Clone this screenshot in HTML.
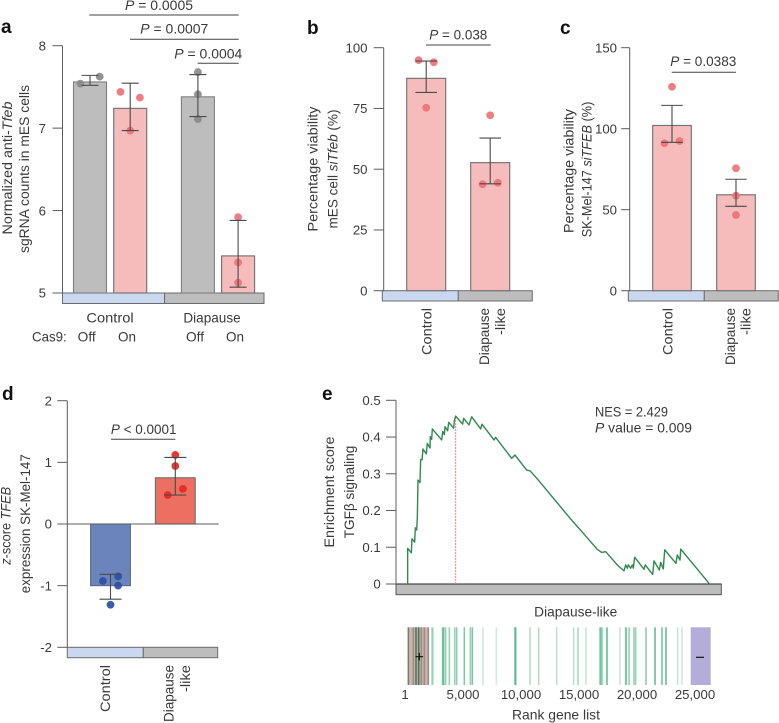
<!DOCTYPE html>
<html lang="en">
<head>
<meta charset="utf-8">
<title>Tfeb diapause figure</title>
<style>
html,body{margin:0;padding:0;background:#fff;width:779px;height:723px;overflow:hidden}
svg{display:block}
text{font-family:"Liberation Sans",sans-serif;font-size:13.6px;fill:#3a3a3a}
.letter{font-size:19px;font-weight:bold;fill:#111}
.mid{text-anchor:middle}
.tick{font-size:13.2px;text-anchor:end}
.rank{font-size:13.2px;text-anchor:middle}
.end{text-anchor:end}
.i{font-style:italic}
.br{stroke:#444;stroke-width:1}
.s-blue{fill:#c9d8ef;stroke:#6b6b6b;stroke-width:1}
.s-gray{fill:#bdbdbd;stroke:#6b6b6b;stroke-width:1}
</style>
</head>
<body>
<svg id="fig" width="779" height="723" viewBox="0 0 779 723" xmlns="http://www.w3.org/2000/svg">

<g id="pa">
  <text class="letter" x="1" y="33">a</text>
  <rect class="s-blue" x="62.5" y="293" width="102" height="10.5"/>
  <rect class="s-gray" x="164.5" y="293" width="99.5" height="10.5"/>
  <line class="br" x1="89.3" x2="238.7" y1="15" y2="15"/>
  <text class="mid" x="159" y="10" textLength="68" lengthAdjust="spacingAndGlyphs"><tspan class="i">P</tspan> = 0.0005</text>
  <line class="br" x1="130" x2="238.7" y1="39.3" y2="39.3"/>
  <text class="mid" x="174.3" y="33.5" textLength="68" lengthAdjust="spacingAndGlyphs"><tspan class="i">P</tspan> = 0.0007</text>
  <line class="br" x1="197.7" x2="238.7" y1="63.3" y2="63.3"/>
  <text class="mid" x="208.3" y="58.5" textLength="68" lengthAdjust="spacingAndGlyphs"><tspan class="i">P</tspan> = 0.0004</text>
  <text class="mid" transform="translate(12 168) rotate(-90)" textLength="133" lengthAdjust="spacingAndGlyphs">Normalized anti-<tspan class="i">Tfeb</tspan></text>
  <text class="mid" transform="translate(29 169) rotate(-90)" textLength="168" lengthAdjust="spacingAndGlyphs">sgRNA counts in mES cells</text>
  <text class="mid" x="110" y="322.7" textLength="47.3" lengthAdjust="spacingAndGlyphs">Control</text>
  <text class="mid" x="212" y="322.7" textLength="57.3" lengthAdjust="spacingAndGlyphs">Diapause</text>
  <text x="32" y="341.7" textLength="34.7" lengthAdjust="spacingAndGlyphs">Cas9:</text>
  <text class="mid" x="86.7" y="341.7" textLength="18" lengthAdjust="spacingAndGlyphs">Off</text>
  <text class="mid" x="127" y="341.7" textLength="18" lengthAdjust="spacingAndGlyphs">On</text>
  <text class="mid" x="195" y="341.7" textLength="18" lengthAdjust="spacingAndGlyphs">Off</text>
  <text class="mid" x="235" y="341.7" textLength="18" lengthAdjust="spacingAndGlyphs">On</text>
</g>

<g id="pb">
  <text class="letter" x="307" y="34">b</text>
  <rect class="s-blue" x="382.3" y="290.7" width="76" height="10.3"/>
  <rect class="s-gray" x="458.3" y="290.7" width="74" height="10.3"/>
  <line class="br" x1="426" x2="490.7" y1="45" y2="45"/>
  <text class="mid" x="458.3" y="39.3" textLength="58" lengthAdjust="spacingAndGlyphs"><tspan class="i">P</tspan> = 0.038</text>
  <text class="mid" transform="translate(317.3 169) rotate(-90)" textLength="125" lengthAdjust="spacingAndGlyphs">Percentage viability</text>
  <text class="mid" transform="translate(337.7 169) rotate(-90)" textLength="119" lengthAdjust="spacingAndGlyphs">mES cell <tspan class="i">siTfeb</tspan> (%)</text>
  <text class="end" transform="translate(431.7 308) rotate(-90)" textLength="47" lengthAdjust="spacingAndGlyphs">Control</text>
  <text class="end" transform="translate(489 308) rotate(-90)" textLength="57" lengthAdjust="spacingAndGlyphs">Diapause</text>
  <text class="end" transform="translate(505 308) rotate(-90)" textLength="27" lengthAdjust="spacingAndGlyphs">-like</text>
</g>

<g id="pc">
  <text class="letter" x="560" y="34">c</text>
  <rect class="s-blue" x="628.3" y="290.7" width="76" height="10.3"/>
  <rect class="s-gray" x="704.3" y="290.7" width="74" height="10.3"/>
  <line class="br" x1="671.7" x2="736" y1="72.3" y2="72.3"/>
  <text class="mid" x="703.3" y="66" textLength="66" lengthAdjust="spacingAndGlyphs"><tspan class="i">P</tspan> = 0.0383</text>
  <text class="mid" transform="translate(573.3 171) rotate(-90)" textLength="124" lengthAdjust="spacingAndGlyphs">Percentage viability</text>
  <text class="mid" transform="translate(591.7 169.5) rotate(-90)" textLength="135.6" lengthAdjust="spacingAndGlyphs">SK-Mel-147 <tspan class="i">siTFEB</tspan> (%)</text>
  <text class="end" transform="translate(672.3 308) rotate(-90)" textLength="47" lengthAdjust="spacingAndGlyphs">Control</text>
  <text class="end" transform="translate(735 308) rotate(-90)" textLength="57" lengthAdjust="spacingAndGlyphs">Diapause</text>
  <text class="end" transform="translate(750.7 308) rotate(-90)" textLength="27" lengthAdjust="spacingAndGlyphs">-like</text>
</g>

<g id="pd">
  <text class="letter" x="2" y="400">d</text>
  <rect class="s-blue" x="67.3" y="647.3" width="76" height="10.4"/>
  <rect class="s-gray" x="143.3" y="647.3" width="74.4" height="10.4"/>
  <line class="br" x1="111" x2="175.3" y1="439.3" y2="439.3"/>
  <text class="mid" x="143.7" y="434" textLength="65.7" lengthAdjust="spacingAndGlyphs"><tspan class="i">P</tspan> &lt; 0.0001</text>
  <text class="mid" transform="translate(10.7 525.8) rotate(-90)" textLength="78" lengthAdjust="spacingAndGlyphs"><tspan class="i">z</tspan>-score <tspan class="i">TFEB</tspan></text>
  <text class="mid" transform="translate(30 523.7) rotate(-90)" textLength="139" lengthAdjust="spacingAndGlyphs">expression SK-Mel-147</text>
  <text class="end" transform="translate(110 665) rotate(-90)" textLength="47" lengthAdjust="spacingAndGlyphs">Control</text>
  <text class="end" transform="translate(173.3 665) rotate(-90)" textLength="57" lengthAdjust="spacingAndGlyphs">Diapause</text>
  <text class="end" transform="translate(190 665) rotate(-90)" textLength="27" lengthAdjust="spacingAndGlyphs">-like</text>
</g>

<g id="pe">
  <text class="letter" x="322" y="400">e</text>
  <rect x="396" y="584" width="325.3" height="10.7" fill="#bdbdbd" stroke="#555" stroke-width="1"/>
  <line x1="386" x2="721.3" y1="584" y2="584" stroke="#222" stroke-width="1"/>
  <text x="595" y="416.7" textLength="73" lengthAdjust="spacingAndGlyphs">NES = 2.429</text>
  <text x="595" y="432.7" textLength="97" lengthAdjust="spacingAndGlyphs"><tspan class="i">P</tspan> value = 0.009</text>
  <text class="mid" transform="translate(334 492) rotate(-90)" textLength="111" lengthAdjust="spacingAndGlyphs">Enrichment score</text>
  <text class="mid" transform="translate(354 492) rotate(-90)" textLength="92.6" lengthAdjust="spacingAndGlyphs">TGFβ signaling</text>
  <text class="mid" x="575.7" y="616.7" textLength="83" lengthAdjust="spacingAndGlyphs">Diapause-like</text>
  <text class="mid" x="556" y="719.3" textLength="88" lengthAdjust="spacingAndGlyphs">Rank gene list</text>
</g>

<script>
// ---------- Panel a ----------
var aMeans = [7.56, 7.24, 7.38, 5.45];
var aHigh = [7.64, 7.545, 7.65, 5.88];
var aLow = [7.52, 6.97, 7.14, 5.07];
var aPoints = [[7.54, 7.625], [7.44, 7.37, 6.97], [7.68, 7.41, 7.11], [5.92, 5.37, 5.125]];
var aSides = [[-1, 1], [-1, 1, 0], [0, 0, 0], [0, 0, 0]];
var aTicks = [5, 6, 7, 8];
// ---------- Panel b ----------
var bMeans = [87.4, 52.7];
var bHigh = [94.5, 62.8];
var bLow = [81.6, 44];
var bPoints = [[94.9, 94, 75.3], [72.2, 43.8, 44.4]];
var bSides = [[-1, 1, 0], [0, -1, 1]];
var bTicks = [0, 25, 50, 75, 100];
// ---------- Panel c ----------
var cMeans = [102, 59.2];
var cHigh = [114.4, 68.8];
var cLow = [91.6, 52.1];
var cPoints = [[125.9, 91, 92.4], [75.6, 58.7, 46.7]];
var cSides = [[0, -1, 1], [0, 0, 0]];
var cTicks = [0, 50, 100, 150];
// ---------- Panel d ----------
var dMeans = [-1, 0.75];
var dHigh = [-0.816, 1.08];
var dLow = [-1.22, 0.47];
var dPoints = [[-0.925, -0.85, -1, -1.31], [1.12, 0.94, 0.57, 0.47]];
var dSides = [[-1, 1, 1, 0], [0, 0, 1, -1]];
var dTicks = [-2, -1, 0, 1, 2];
// ---------- Panel e ----------
var esRanks = [230,230,546,603,833,891,1006,1063,1121,1293,1350,1466,1552,1839,1925,2155,2184,2299,2356,3161,3247,3391,3448,3678,3764,4195,4253,4368,4971,5057,5517,5747,6523,6638,7672,7816,9195,9483,10489,10776,11494,14224,15373,16580,16957,17302,18302,18534,18879,19026,19164,19250,19457,19595,19681,19802,20603,20715,21353,21466,21922,22043,22267,22388,23362,23474,23707,23767,26207];
var esValues = [0,0.097,0.085,0.123,0.114,0.153,0.147,0.181,0.283,0.276,0.339,0.338,0.3675,0.354,0.383,0.37,0.401,0.394,0.422,0.392,0.415,0.407,0.428,0.417,0.44,0.424,0.445,0.457,0.435,0.451,0.433,0.455,0.422,0.435,0.392,0.399,0.342,0.351,0.31,0.308,0.283,0.179,0.138,0.094,0.086,0.088,0.052,0.045,0.036,0.052,0.043,0.052,0.043,0.052,0.043,0.073,0.04,0.052,0.026,0.063,0.038,0.059,0.041,0.093,0.056,0.079,0.065,0.095,0.002];
var esTicks = [0, 0.1, 0.2, 0.3, 0.4, 0.5];
var rugRanks = [287,718,948,1178,1408,1667,2011,2328,2414,3247,3333,3506,3822,4282,4454,5115,5632,5805,6724,7874,9483,9540,10776,11523,13075,14540,14914,15604,16811,16900,17012,17414,18535,19052,19311,19742,19886,20777,21553,22156,22501,23507,23881];
var rugWeights = [0.8,0.5,0.95,1,0.5,0.5,0.5,0.45,0.35,0.7,0.7,0.55,0.55,0.55,0.6,0.65,0.55,0.7,0.25,0.25,0.7,0.7,0.4,0.4,0.35,0.35,0.45,0.3,0.6,0.6,0.45,0.8,0.3,0.85,0.55,0.55,0.5,0.6,0.8,0.7,0.8,0.3,0.25];
var enrichedRange = [287, 2069];
var depletedRange = [24629, 26353];
var rankTicks = [1, 5000, 10000, 15000, 20000, 25000];
var rankTickLabels = ['1', '5,000', '10,000', '15,000', '20,000', '25,000'];

var NS = 'http://www.w3.org/2000/svg';
function mk(tag, attrs, parent) {
  var el = document.createElementNS(NS, tag);
  for (var k in attrs) el.setAttribute(k, attrs[k]);
  parent.appendChild(el);
  return el;
}
function linear(d0, d1, r0, r1) {
  return function (v) { return r0 + (v - d0) / (d1 - d0) * (r1 - r0); };
}

function drawYAxis(parent, ticks, y, axisX, tickLen, labelX, format) {
  var top = y(ticks[ticks.length - 1]), bottom = y(ticks[0]);
  var axis = mk('line', { x1: axisX, x2: axisX, y1: top, y2: bottom, stroke: '#5c5c5c', 'stroke-width': 1 }, parent);
  
  
  ticks.forEach(function (t) {
    var tk = mk('line', { x1: axisX - tickLen, x2: axisX, y1: y(t), y2: y(t), stroke: '#5c5c5c', 'stroke-width': 1 }, parent);
    
    
    var lb = mk('text', { x: labelX, y: y(t) + 4.7, 'class': 'tick' }, parent);
    
    
    lb.textContent = format ? format(t) : String(t);
  });
}

function drawBars(o) {
  var parent = document.getElementById(o.id), y = o.y, zero = y(o.base);
  o.means.forEach(function (m, i) {
    var cx = o.x(i), top = Math.min(y(m), zero), h = Math.abs(y(m) - zero);
    var bar = mk('rect', { x: cx - o.barW / 2, y: top, width: o.barW, height: h, fill: o.fills[i], stroke: o.strokes[i], 'stroke-width': 1.1 }, parent);
    
    
  });
  o.means.forEach(function (m, i) {
    var cx = o.x(i);
    o.points[i].forEach(function (p, j) {
      var dot = mk('circle', { cx: cx + o.sides[i][j] * o.spread, cy: y(p), r: 3.9, fill: o.dots[i], opacity: 0.92 }, parent);
      
      
    });
  });
  o.means.forEach(function (m, i) {
    var cx = o.x(i), c = o.capW / 2;
    var d = 'M' + cx + ' ' + y(o.low[i]) + 'V' + y(o.high[i]) +
      'M' + (cx - c) + ' ' + y(o.high[i]) + 'H' + (cx + c) +
      'M' + (cx - c) + ' ' + y(o.low[i]) + 'H' + (cx + c);
    var err = mk('path', { d: d, fill: 'none', stroke: '#4a4a4a', 'stroke-width': 1.1 }, parent);
    
    
  });
}

var GRAY = '#bdbdbd', PINK = '#f6bbbb', GEDGE = '#7f7f7f', PEDGE = '#6e6e6e';
var GDOT = '#8a8a8a', PDOT = '#ef7276';

// panel a
var aY = linear(5, 8, 293, 45.7);
drawBars({ id: 'pa', y: aY, base: 5, means: aMeans, high: aHigh, low: aLow, points: aPoints, sides: aSides, spread: 9.7,
  x: function (i) { return 90 + 40.2 * i + (i >= 2 ? 27.5 : 0); }, barW: 33, capW: 17,
  fills: [GRAY, PINK, GRAY, PINK], strokes: [GEDGE, PEDGE, GEDGE, PEDGE], dots: [GDOT, PDOT, GDOT, PDOT] });
drawYAxis(document.getElementById('pa'), aTicks, aY, 62.5, 10, 46);

// panel b
var bY = linear(0, 100, 290.7, 47.7);
drawBars({ id: 'pb', y: bY, base: 0, means: bMeans, high: bHigh, low: bLow, points: bPoints, sides: bSides, spread: 7.6,
  x: function (i) { return 426.2 + 64 * i; }, barW: 39, capW: 21.5,
  fills: [PINK, PINK], strokes: [PEDGE, PEDGE], dots: [PDOT, PDOT] });
drawYAxis(document.getElementById('pb'), bTicks, bY, 383.7, 10, 367.5);

// panel c
var cY = linear(0, 150, 290.7, 47.7);
drawBars({ id: 'pc', y: cY, base: 0, means: cMeans, high: cHigh, low: cLow, points: cPoints, sides: cSides, spread: 7.5,
  x: function (i) { return 672 + 64 * i; }, barW: 38.6, capW: 21.5,
  fills: [PINK, PINK], strokes: [PEDGE, PEDGE], dots: [PDOT, PDOT] });
drawYAxis(document.getElementById('pc'), cTicks, cY, 629.7, 8.5, 617);

// panel d
var dY = linear(-2, 2, 647.3, 400.7);
drawBars({ id: 'pd', y: dY, base: 0, means: dMeans, high: dHigh, low: dLow, points: dPoints, sides: dSides, spread: 7.6,
  x: function (i) { return 110.5 + 64.8 * i; }, barW: 39.8, capW: 22,
  fills: ['#6b84bb', '#ec6f62'], strokes: ['#5c6a8c', '#6e6e6e'], dots: ['#2d4fa3', '#e5281e'] });
drawYAxis(document.getElementById('pd'), dTicks, dY, 67.3, 10, 52);
(function () {
  var zl = mk('line', { x1: 67.3, x2: 218.7, y1: dY(0), y2: dY(0), stroke: '#5c5c5c', 'stroke-width': 1 }, document.getElementById('pd'));
  
  
})();

// panel e
(function () {
  var pe = document.getElementById('pe');
  var eY = linear(0, 0.5, 584, 400.3);
  var eX = linear(0, 5000, 405, 463);
  drawYAxis(pe, esTicks, eY, 396, 10, 380.7, function (t) { return String(t); });

  var peakIdx = 0;
  esValues.forEach(function (v, i) { if (v > esValues[peakIdx]) peakIdx = i; });
  var peak = mk('line', { x1: eX(esRanks[peakIdx]), x2: eX(esRanks[peakIdx]), y1: eY(0), y2: eY(esValues[peakIdx]), stroke: '#f2808e', 'stroke-width': 1, 'stroke-dasharray': '2 1' }, pe);
  
  

  var d = esRanks.map(function (r, i) { return (i ? 'L' : 'M') + eX(r).toFixed(2) + ' ' + eY(esValues[i]).toFixed(2); }).join('');
  var curve = mk('path', { d: d, fill: 'none', stroke: '#2f8a4e', 'stroke-width': 1.4, 'stroke-linejoin': 'round' }, pe);
  
  

  var rugTop = 627.3, rugH = 57.7;
  var blockA = mk('rect', { x: eX(enrichedRange[0]), y: rugTop, width: eX(enrichedRange[1]) - eX(enrichedRange[0]), height: rugH, fill: '#dcaeab' }, pe);
  
  
  var blockB = mk('rect', { x: eX(depletedRange[0]), y: rugTop, width: eX(depletedRange[1]) - eX(depletedRange[0]), height: rugH, fill: '#b3add9' }, pe);
  
  

  rugRanks.forEach(function (r, i) {
    var inBlock = r >= enrichedRange[0] && r <= enrichedRange[1];
    var ln = mk('line', { x1: eX(r), x2: eX(r), y1: rugTop, y2: rugTop + rugH, stroke: inBlock ? '#3d7a5c' : '#3fae7b', 'stroke-width': 1.6, opacity: rugWeights[i] }, pe);
    
    
  });

  var plus = mk('path', { d: 'M415.5 656.7H423.1M419.3 652.9V660.5', stroke: '#111', 'stroke-width': 1.2, fill: 'none' }, pe);
  
  
  var minus = mk('path', { d: 'M696 657.3H704', stroke: '#111', 'stroke-width': 1.2, fill: 'none' }, pe);
  
  

  rankTicks.forEach(function (t, i) {
    var lb = mk('text', { x: eX(t), y: 699, 'class': 'rank' }, pe);
    
    
    lb.textContent = rankTickLabels[i];
  });
})();
</script>
</svg>
</body>
</html>
